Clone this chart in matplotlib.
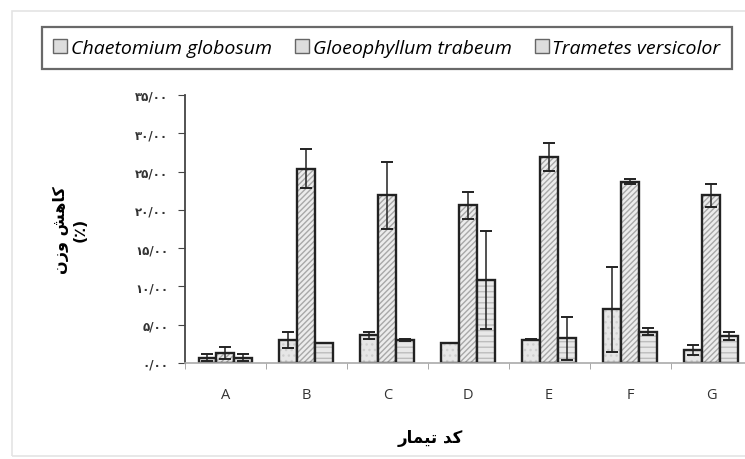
import numpy as np
import matplotlib
matplotlib.use("Agg")
import matplotlib.pyplot as plt
from matplotlib.patches import Patch, Rectangle

treatments = ["A", "B", "C", "D", "E", "F", "G"]
fungi = ["Chaetomium globosum", "Gloeophyllum trabeum", "Trametes versicolor"]

chaetomium = [0.7, 3.0, 3.6, 2.6, 3.05, 7.0, 1.75]
chaetomium_err = [0.5, 1.0, 0.5, 0.0, 0.1, 5.5, 0.65]
gloeophyllum = [1.3, 25.4, 21.9, 20.6, 26.9, 23.7, 21.9]
gloeophyllum_err = [0.8, 2.5, 4.4, 1.75, 1.85, 0.3, 1.5]
trametes = [0.7, 2.6, 3.0, 10.85, 3.2, 4.1, 3.5]
trametes_err = [0.5, 0.0, 0.1, 6.4, 2.8, 0.45, 0.55]

yticks = [0, 5, 10, 15, 20, 25, 30, 35]

# persian digits for tick labels
fa_digits = str.maketrans("0123456789", "۰۱۲۳۴۵۶۷۸۹")
ytick_labels = [("%d/00" % v).translate(fa_digits) for v in yticks]

# pre-shaped persian text (visual order, presentation forms)
ylabel_txt = "\uFEE5\uFEAF\uFEED \uFEB6\uFEEB\uFE8E\uFEDB" + "\n(٪)"
xlabel_txt = "\uFEAD\uFE8E\uFEE4\uFEF4\uFE97 \uFEAA\uFEDB"

fig = plt.figure(figsize=(7.45, 4.6), dpi=100)
fig.patches.append(Rectangle((12 / 745, 3 / 460), 740 / 745, 445 / 460, transform=fig.transFigure,
                             fill=False, edgecolor="#e4e4e4", linewidth=1.2))

ax = fig.add_axes([185 / 745, 96 / 460, 560 / 745, 268 / 460])

x = np.arange(len(treatments))
w = 0.222
series = [chaetomium, gloeophyllum, trametes]
errors = [chaetomium_err, gloeophyllum_err, trametes_err]
hatches = ["...", "//////", "---"]
hatch_cols = ["#cfcfcf", "#a8a8a8", "#bdbdbd"]
faces = ["#e6e6e6", "#ececec", "#e8e8e8"]

for i in range(3):
    pos = x + (i - 1) * w
    ax.bar(pos, series[i], w, color=faces[i], edgecolor=hatch_cols[i], hatch=hatches[i], linewidth=0)
    ax.bar(pos, series[i], w, fill=False, edgecolor="#222222", linewidth=1.7)
    ax.errorbar(pos, series[i], yerr=errors[i], fmt="none", ecolor="#222222",
                elinewidth=1.1, capsize=4, capthick=1.4)

ax.set_xlim(-0.5, 6.42)
ax.set_ylim(0, 35)
ax.set_yticks(yticks)
ax.set_yticklabels(ytick_labels, fontfamily="DejaVu Sans", fontsize=8.5, fontweight="bold", color="#333333")
ax.set_xticks(x)
ax.set_xticklabels(treatments, fontfamily="Open Sans", fontsize=10.5, color="#333333")
ax.set_xticks(np.arange(-0.5, 6.5, 1), minor=True)
ax.tick_params(axis="x", which="major", length=0, pad=17)
ax.tick_params(axis="x", which="minor", length=4, color="#999999", direction="out")
ax.tick_params(axis="y", length=5, color="#444444", pad=7)

for s in ["top", "right"]:
    ax.spines[s].set_visible(False)
ax.spines["left"].set_color("#444444")
ax.spines["left"].set_linewidth(1.3)
ax.spines["bottom"].set_color("#aaaaaa")
ax.spines["bottom"].set_linewidth(1.2)

fig.text(70 / 745, 230 / 460, ylabel_txt, rotation=90, ha="center", va="center",
         fontfamily="DejaVu Sans", fontsize=11.5, fontweight="bold", linespacing=1.3)
fig.text(430 / 745, 22 / 460, xlabel_txt, ha="center", va="center",
         fontfamily="DejaVu Sans", fontsize=12, fontweight="bold")

handles = [Patch(facecolor="#dddddd", edgecolor="#666666", linewidth=1) for i in range(3)]
leg = fig.legend(handles, fungi, loc="center", bbox_to_anchor=(387 / 745, (460 - 49) / 460),
                 ncol=3, frameon=True, fancybox=False, edgecolor="#444444",
                 prop={"family": "Open Sans", "style": "italic", "size": 14},
                 handlelength=0.7, handleheight=0.7, handletextpad=0.2, columnspacing=1.2,
                 borderpad=0.6, borderaxespad=0)
leg.get_frame().set_linewidth(1.6)

fig.savefig("out.png", dpi=100)
